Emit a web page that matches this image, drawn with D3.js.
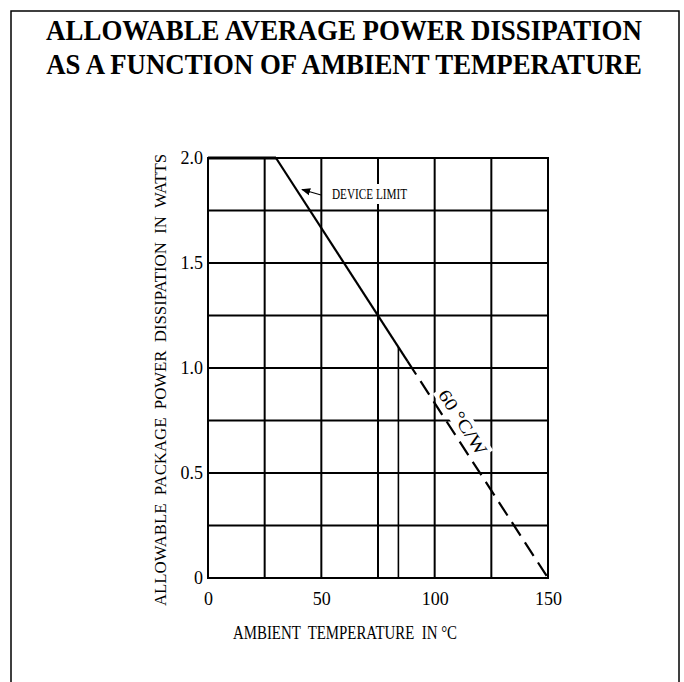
<!DOCTYPE html>
<html>
<head>
<meta charset="utf-8">
<script src="https://cdn.jsdelivr.net/npm/d3@7"></script>
<style>
  html, body { margin: 0; padding: 0; background: #fff; }
  svg { display: block; }
</style>
</head>
<body>
<script>
// ---- data ----
const titleLines = ["ALLOWABLE AVERAGE POWER DISSIPATION", "AS A FUNCTION OF AMBIENT TEMPERATURE"];
const xLabel = "AMBIENT  TEMPERATURE  IN °C";
const yLabel = "ALLOWABLE  PACKAGE  POWER  DISSIPATION  IN  WATTS";
const xTicks = [0, 50, 100, 150];
const xTickLabels = ["0", "50", "100", "150"];
const yTicks = [0, 0.5, 1.0, 1.5, 2.0];
const yTickLabels = ["0", "0.5", "1.0", "1.5", "2.0"];
const xGrid = [25, 50, 75, 100, 125];
const yGrid = [0.25, 0.5, 0.75, 1.0, 1.25, 1.5, 1.75];
const limitT = [0, 30];
const limitP = [2.0, 2.0];
const solidT = [30, 88];
const solidP = [2.0, 1.033];
const dashT = [88, 150];
const dashP = [1.033, 0];
const markerT = [84, 84];
const markerP = [0, 1.1];
const deviceLabel = "DEVICE  LIMIT";
const slopeLabel = "60 °C/W";

// ---- layout ----
const W = 684, H = 682;
const svg = d3.select("body").append("svg").attr("width", W).attr("height", H);
const x = d3.scaleLinear().domain([0, 150]).range([208, 548]);
const y = d3.scaleLinear().domain([0, 2]).range([578, 158]);
const serif = "'Liberation Serif', 'Times New Roman', serif";

// outer border
svg.append("rect").attr("x", 11).attr("y", 11).attr("width", 668).attr("height", 700)
  .attr("fill", "none").attr("stroke", "#000").attr("stroke-width", 1.5);

// title (horizontally condensed to fit the reference width)
titleLines.forEach((t, i) => {
  const tg = svg.append("g").attr("transform", `translate(344,${40 + i * 34})`);
  const tx = tg.append("text").attr("text-anchor", "middle")
    .attr("font-family", serif).attr("font-weight", "bold").attr("font-size", 29)
    .text(t);
  const len = tx.node().getComputedTextLength();
  tx.attr("transform", `scale(${596 / len},1)`);
});

// grid
const g = svg.append("g");
g.selectAll("line.vg").data(xGrid).join("line")
  .attr("x1", d => x(d)).attr("x2", d => x(d)).attr("y1", y(0)).attr("y2", y(2))
  .attr("stroke", "#000").attr("stroke-width", 2);
g.selectAll("line.hg").data(yGrid).join("line")
  .attr("y1", d => y(d)).attr("y2", d => y(d)).attr("x1", x(0)).attr("x2", x(150))
  .attr("stroke", "#000").attr("stroke-width", 2);
g.append("rect").attr("x", x(0)).attr("y", y(2)).attr("width", x(150) - x(0)).attr("height", y(0) - y(2))
  .attr("fill", "none").attr("stroke", "#000").attr("stroke-width", 2);

// marker vertical
g.append("line").attr("x1", x(markerT[0])).attr("x2", x(markerT[1]))
  .attr("y1", y(markerP[0])).attr("y2", y(markerP[1]))
  .attr("stroke", "#000").attr("stroke-width", 1.6);

// curves
const line = d3.line().x(d => x(d[0])).y(d => y(d[1]));
g.append("path").datum(d3.zip(limitT, limitP)).attr("d", line)
  .attr("fill", "none").attr("stroke", "#000").attr("stroke-width", 3);
g.append("path").datum(d3.zip(solidT, solidP)).attr("d", line)
  .attr("fill", "none").attr("stroke", "#000").attr("stroke-width", 2.2);
g.append("path").datum(d3.zip(dashT, dashP)).attr("d", line)
  .attr("fill", "none").attr("stroke", "#000").attr("stroke-width", 2.2)
  .attr("stroke-dasharray", "16,8");

// device limit label
svg.append("rect").attr("x", 331).attr("y", 184).attr("width", 78).attr("height", 20).attr("fill", "#fff");
svg.append("text").attr("x", 332).attr("y", 199)
  .attr("font-family", serif).attr("font-size", 15)
  .attr("textLength", 75).attr("lengthAdjust", "spacingAndGlyphs")
  .text(deviceLabel);
svg.append("defs").append("marker").attr("id", "ah")
  .attr("viewBox", "0 0 10 10").attr("refX", 9).attr("refY", 5)
  .attr("markerWidth", 7).attr("markerHeight", 7).attr("orient", "auto")
  .append("path").attr("d", "M0,1 L10,5 L0,9 z").attr("fill", "#000");
svg.append("line").attr("x1", 321).attr("y1", 195).attr("x2", 302).attr("y2", 189.5)
  .attr("stroke", "#000").attr("stroke-width", 1.3).attr("marker-end", "url(#ah)");

// slope label
const ang = Math.atan2(y(0) - y(2), x(150) - x(30)) * 180 / Math.PI;
const sl = svg.append("g").attr("transform", `translate(463,422) rotate(${ang})`);
sl.append("rect").attr("x", -40).attr("y", -10).attr("width", 80).attr("height", 20).attr("fill", "#fff");
sl.append("text").attr("x", 0).attr("y", 0).attr("dy", "0.35em").attr("text-anchor", "middle")
  .attr("font-family", serif).attr("font-size", 18)
  .attr("textLength", 74).attr("lengthAdjust", "spacingAndGlyphs")
  .text(slopeLabel);

// axes (labels only)
const xAxis = d3.axisBottom(x).tickValues(xTicks).tickFormat((d, i) => xTickLabels[i]).tickSize(0).tickPadding(14);
const xa = svg.append("g").attr("transform", `translate(0,${y(0)})`).call(xAxis);
xa.select(".domain").remove();
xa.selectAll("text").attr("font-family", serif).attr("font-size", 18).attr("fill", "#000");

const yAxis = d3.axisLeft(y).tickValues(yTicks).tickFormat((d, i) => yTickLabels[i]).tickSize(0).tickPadding(5);
const ya = svg.append("g").attr("transform", `translate(${x(0)},0)`).call(yAxis);
ya.select(".domain").remove();
ya.selectAll("text").attr("font-family", serif).attr("font-size", 18).attr("fill", "#000");

// axis titles
svg.append("text").attr("x", 345).attr("y", 639).attr("text-anchor", "middle")
  .attr("font-family", serif).attr("font-size", 18)
  .attr("textLength", 224).attr("lengthAdjust", "spacingAndGlyphs")
  .style("white-space", "pre")
  .text(xLabel);
svg.append("text").attr("transform", "translate(160,380) rotate(-90)")
  .attr("text-anchor", "middle").attr("dy", "0.35em")
  .attr("font-family", serif).attr("font-size", 17)
  .attr("textLength", 452).attr("lengthAdjust", "spacingAndGlyphs")
  .style("white-space", "pre")
  .text(yLabel);
</script>
</body>
</html>
